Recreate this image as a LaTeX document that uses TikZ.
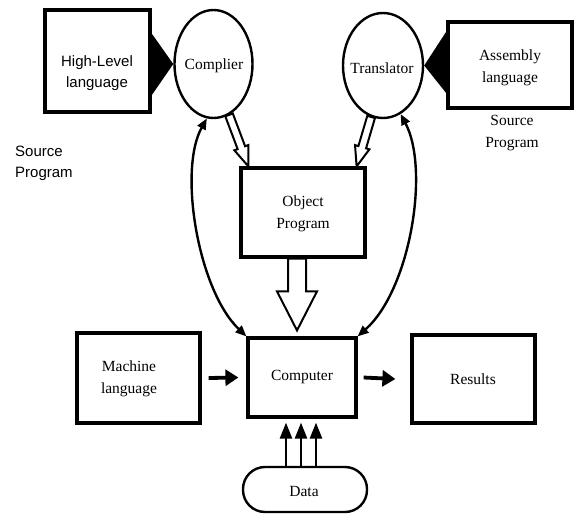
\documentclass[tikz,border=0pt]{standalone}
\usepackage{fontspec}
\setmainfont{Liberation Serif}
\newfontfamily\arialfont{Liberation Sans}
\usetikzlibrary{calc,arrows.meta,shapes.geometric}

% hollow block arrow: start, end, shaft half-width, head half-width, head length
\newcommand{\hollowarrow}[5]{%
  \draw[hollow] let \p1=(#1), \p2=(#2),
      \n1={atan2(\y2-\y1,\x2-\x1)}, \n2={veclen(\x2-\x1,\y2-\y1)} in
    [shift={(\p1)}, rotate=\n1]
    (0,#3) -- ({\n2-#5},#3) -- ({\n2-#5},#4) -- (\n2,0)
    -- ({\n2-#5},-#4) -- ({\n2-#5},-#3) -- (0,-#3) -- cycle;%
}

\begin{document}
\begin{tikzpicture}[x=1pt,y=-1pt,
  box/.style={draw, line width=3.2pt, inner sep=0pt},
  oval/.style={draw, ellipse, line width=2.4pt, inner sep=0pt},
  lbl/.style={font=\fontsize{15.5}{22}\selectfont, align=center, inner sep=0pt},
  sanslbl/.style={font=\arialfont\fontsize{15}{21}\selectfont, align=center, inner sep=0pt},
  hollow/.style={draw, fill=white, line width=2pt, line join=miter},
  curve/.style={line width=2.4pt, {Triangle[length=11pt,width=9pt]}-{Triangle[length=11pt,width=9pt]}},
  thickarrow/.style={line width=3.8pt, -{Triangle[length=13pt,width=16pt]}},
  dataarrow/.style={line width=2.6pt, -{Triangle[length=16pt,width=12pt]}, shorten >=4pt},
]
\fill[white] (0,0) rectangle (575,514);
\useasboundingbox (0,0) rectangle (575,514);

% source boxes and processors
\node[box, minimum width=105pt, minimum height=102pt] (hl) at (97.5,61) {};
\node[sanslbl] (hltext) at (97,73) {High-Level\\language};
\node[oval, minimum width=78pt, minimum height=108pt] (compiler) at (213.5,64) {};
\node[lbl] (comptext) at (214,66) {Complier};
\node[oval, minimum width=80pt, minimum height=105pt] (translator) at (383,65.5) {};
\node[lbl] (transtext) at (382,68) {Translator};
\node[box, minimum width=124pt, minimum height=86pt] (asm) at (510,65) {};
\node[lbl] (asmtext) at (510,68) {Assembly\\language};
\node[lbl] (srcright) at (512,133) {Source\\Program};
\node[sanslbl, align=left, anchor=west] (srcleft) at (15,163) {Source\\Program};

% object program and execution
\node[box, minimum width=124pt, minimum height=89pt] (obj) at (303,212.5) {};
\node[lbl] (objtext) at (303,214) {Object\\Program};
\node[box, minimum width=108pt, minimum height=79pt] (comp) at (302,377.5) {};
\node[lbl] (comptxt) at (302,377) {Computer};
\node[box, minimum width=123pt, minimum height=90pt] (ml) at (138.5,378) {};
\node[lbl] (mltext) at (129,379) {Machine\\language};
\node[box, minimum width=123pt, minimum height=88pt] (res) at (473.5,379) {};
\node[lbl] (restext) at (473,379) {Results};
\node[draw, line width=2.4pt, rounded corners=22pt, minimum width=124pt,
      minimum height=45pt, inner sep=0pt] (data) at (305,489.5) {};
\node[lbl] (datatext) at (304,491) {Data};

% feeds from the sources into the processors
\fill ($(hl.north east)+(0,25)$) -- (compiler.west) -- ($(hl.north east)+(0,87)$) -- cycle;
\fill ($(asm.north west)+(0,11)$) -- (translator.east) -- ($(asm.north west)+(0,73)$) -- cycle;

% block arrows
\hollowarrow{compiler.-73}{$(obj.north west)+(9,0)$}{4}{7.5}{20}
\hollowarrow{translator.-103}{$(obj.north east)+(-10,0)$}{4}{7.5}{20}
\hollowarrow{$(obj.south)+(-6,0)$}{$(comp.north)+(-5,-6)$}{9}{20}{39}

% two-way links between computer and processors
\draw[curve] (comp.north west) .. controls (198,290) and (178,170) .. (compiler.-97);
\draw[curve] (comp.north east) .. controls (410,290) and (430,170) .. (translator.-70);

% input and output
\draw[thickarrow] ($(ml.east)+(7,0)$) -- ($(comp.west)+(-8,0)$);
\draw[thickarrow] ($(comp.east)+(6,0)$) -- ($(res.west)+(-15,0)$);
\coordinate (d1) at ($(comp.south)+(-16,0)$);
\coordinate (d2) at ($(comp.south)+(-1,0)$);
\coordinate (d3) at ($(comp.south)+(14,0)$);
\draw[dataarrow] (d1 |- data.north) -- (d1);
\draw[dataarrow] (d2 |- data.north) -- (d2);
\draw[dataarrow] (d3 |- data.north) -- (d3);
\end{tikzpicture}
\end{document}
